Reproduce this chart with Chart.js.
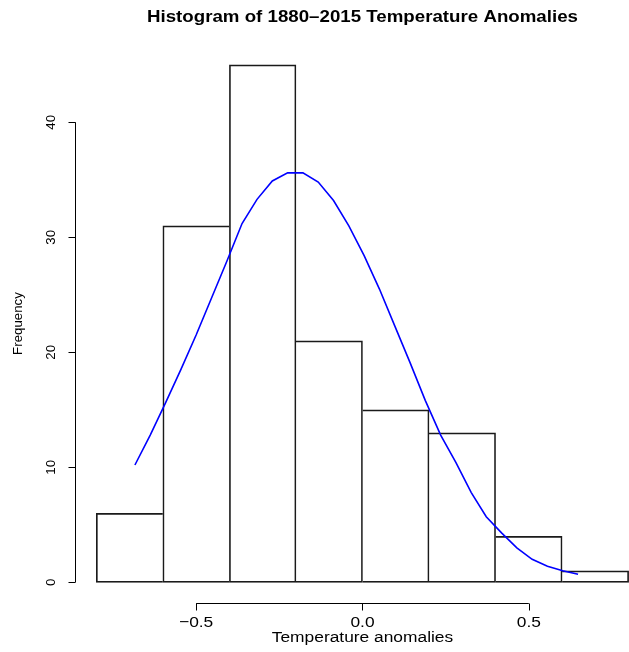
<!DOCTYPE html>
<html>
<head>
<meta charset="utf-8">
<title>Histogram of 1880–2015 Temperature Anomalies</title>
<script src="https://cdn.jsdelivr.net/npm/chart.js@4"></script>
<style>
  html, body { margin: 0; padding: 0; background: #fff; overflow: hidden; }
  canvas { display: block; }
</style>
</head>
<body>
<canvas id="histChart" width="629" height="652"></canvas>
<script>
// histogram bins (0.2 wide, centred) and their counts
const binMids = [-0.7, -0.5, -0.3, -0.1, 0.1, 0.3, 0.5, 0.7];
const counts = [6, 31, 45, 21, 15, 13, 4, 1];

// fitted normal curve, scaled to counts
const curveX = [-0.684, -0.638, -0.592, -0.546, -0.500, -0.454, -0.408, -0.362, -0.317, -0.271,
                -0.225, -0.179, -0.133, -0.087, -0.041, 0.005, 0.051, 0.097, 0.143, 0.189,
                0.235, 0.281, 0.327, 0.372, 0.418, 0.464, 0.510, 0.556, 0.602, 0.648];
const curveY = [10.2, 12.8, 15.6, 18.5, 21.5, 24.7, 27.9, 31.2, 33.3, 34.9,
                35.6, 35.6, 34.8, 33.2, 31.0, 28.4, 25.5, 22.3, 19.1, 15.8,
                12.8, 10.4, 7.8, 5.7, 4.3, 3.0, 2.0, 1.4, 1.0, 0.7];

const xTicks = [-0.5, 0, 0.5];
const xTickLabels = ["\u22120.5", "0.0", "0.5"];
const yTicks = [0, 10, 20, 30, 40];

const titleText = "Histogram of 1880\u20132015 Temperature Anomalies";
const xTitle = "Temperature anomalies";
const yTitle = "Frequency";

const FONT = '"Liberation Sans", Arial, Helvetica, sans-serif';

function drawText(ctx, text, x, y, font, sx, rot) {
  ctx.save();
  ctx.translate(x, y);
  ctx.scale(sx, 1);
  if (rot) ctx.rotate(rot);
  ctx.font = font;
  ctx.textAlign = "center";
  ctx.textBaseline = "alphabetic";
  ctx.fillText(text, 0, 0);
  ctx.restore();
}

// base-graphics style axes: line only between first and last tick, outward ticks
const rAxes = {
  id: "rAxes",
  afterDraw(chart) {
    const { ctx, chartArea } = chart;
    const x = chart.scales.x, y = chart.scales.y;
    ctx.save();
    ctx.strokeStyle = "#000";
    ctx.fillStyle = "#000";
    ctx.lineWidth = 1;

    const axY = Math.round(chartArea.bottom) + 0.5;
    ctx.beginPath();
    ctx.moveTo(x.getPixelForValue(xTicks[0]), axY);
    ctx.lineTo(x.getPixelForValue(xTicks[xTicks.length - 1]), axY);
    xTicks.forEach(v => {
      const px = Math.round(x.getPixelForValue(v)) + 0.5;
      ctx.moveTo(px, axY);
      ctx.lineTo(px, axY + 7);
    });
    const axX = Math.round(chartArea.left) + 0.5;
    ctx.moveTo(axX, y.getPixelForValue(yTicks[0]));
    ctx.lineTo(axX, y.getPixelForValue(yTicks[yTicks.length - 1]));
    yTicks.forEach(v => {
      const py = Math.round(y.getPixelForValue(v)) + 0.5;
      ctx.moveTo(axX, py);
      ctx.lineTo(axX - 7, py);
    });
    ctx.stroke();

    const tickFont = "15.5px " + FONT;
    const sideFont = "13.3px " + FONT;
    xTicks.forEach((v, i) => {
      drawText(ctx, xTickLabels[i], x.getPixelForValue(v), axY + 23, tickFont, 1.12, 0);
    });
    yTicks.forEach(v => {
      drawText(ctx, String(v), axX - 21, y.getPixelForValue(v), sideFont, 1, -Math.PI / 2);
    });

    const midX = x.getPixelForValue(0);
    const midY = (chartArea.top + chartArea.bottom) / 2;
    drawText(ctx, xTitle, midX, axY + 38.5, tickFont, 1.12, 0);
    drawText(ctx, yTitle, 22, midY, sideFont, 1, -Math.PI / 2);
    drawText(ctx, titleText, midX, 22, "bold 17px " + FONT, 1.1, 0);
    ctx.restore();
  }
};

// each shared edge is drawn once, by the taller of the two bars
function barBorder(c) {
  const i = c.dataIndex;
  const n = counts.length;
  return {
    top: 1,
    bottom: 1,
    left: (i === 0 || counts[i] > counts[i - 1]) ? 1 : 0,
    right: (i === n - 1 || counts[i] >= counts[i + 1]) ? 1 : 0
  };
}

new Chart(document.getElementById("histChart"), {
  type: "bar",
  data: {
    datasets: [
      {
        type: "line",
        data: curveX.map((v, i) => ({ x: v, y: curveY[i] })),
        borderColor: "#0000ff",
        borderWidth: 1.6,
        pointRadius: 0,
        tension: 0,
        fill: false,
        order: 0
      },
      {
        type: "bar",
        data: binMids.map((v, i) => ({ x: v, y: counts[i] })),
        backgroundColor: "rgba(0,0,0,0)",
        borderColor: "#1a1a1a",
        borderWidth: barBorder,
        borderSkipped: false,
        barPercentage: 1,
        categoryPercentage: 1,
        order: 1
      }
    ]
  },
  options: {
    responsive: false,
    animation: false,
    devicePixelRatio: 1,
    layout: { padding: { left: 75, right: 0, top: 44, bottom: 49 } },
    scales: {
      x: { type: "linear", min: -0.8641, max: 0.8011, offset: false, display: false },
      y: { type: "linear", min: -1.8, max: 46.81, display: false }
    },
    plugins: {
      legend: { display: false },
      tooltip: { enabled: false }
    }
  },
  plugins: [rAxes]
});
</script>
</body>
</html>
